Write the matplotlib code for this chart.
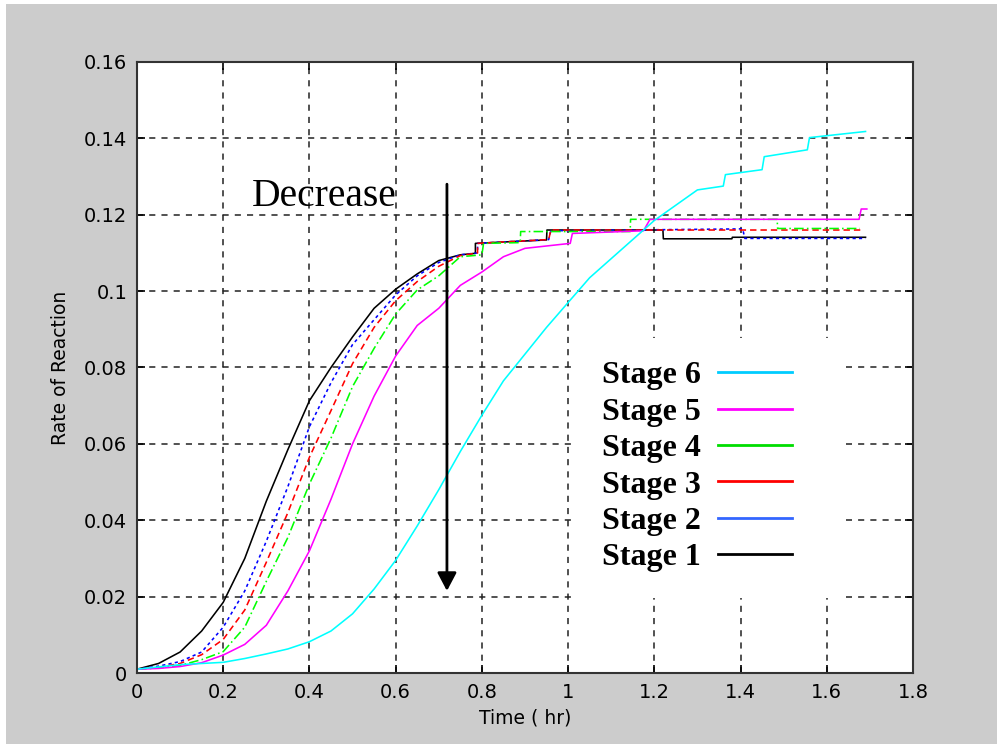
import matplotlib.pyplot as plt
from matplotlib.patches import Rectangle

# Stage 1 (black, solid)
s1_t = [0, 0.05, 0.1, 0.15, 0.2, 0.25, 0.3, 0.35, 0.4, 0.45, 0.5, 0.55, 0.6, 0.65, 0.7, 0.75,
        0.785, 0.785, 0.95, 0.951, 1.22, 1.221, 1.38, 1.381, 1.69]
s1_r = [0.001, 0.0025, 0.0055, 0.011, 0.0185, 0.030, 0.045, 0.0585, 0.0713, 0.080, 0.088, 0.0955,
        0.1005, 0.1045, 0.108, 0.1095, 0.1099, 0.1125, 0.1134, 0.116, 0.116, 0.1137, 0.1137,
        0.1141, 0.1141]

# Stage 2 (blue, dotted)
s2_t = [0, 0.05, 0.1, 0.15, 0.2, 0.25, 0.3, 0.35, 0.4, 0.45, 0.5, 0.55, 0.6, 0.65, 0.7, 0.75,
        0.79, 0.79, 0.955, 0.96, 1.405, 1.41, 1.69]
s2_r = [0.001, 0.0018, 0.003, 0.0055, 0.012, 0.0215, 0.0345, 0.0488, 0.0645, 0.076, 0.086,
        0.0925, 0.099, 0.104, 0.1075, 0.1095, 0.110, 0.1125, 0.1135, 0.1158, 0.1163, 0.1138,
        0.1138]

# Stage 3 (red, dashed)
s3_t = [0, 0.05, 0.1, 0.15, 0.2, 0.25, 0.3, 0.35, 0.4, 0.45, 0.5, 0.55, 0.6, 0.65, 0.7, 0.75,
        0.79, 0.79, 0.955, 0.96, 1.68]
s3_r = [0.001, 0.0015, 0.0025, 0.0048, 0.0088, 0.0165, 0.029, 0.042, 0.0565, 0.0687, 0.081,
        0.0905, 0.0975, 0.1025, 0.1065, 0.1093, 0.110, 0.1125, 0.1135, 0.116, 0.116]

# Stage 4 (green, dash-dot)
s4_t = [0, 0.05, 0.1, 0.15, 0.2, 0.25, 0.3, 0.35, 0.4, 0.45, 0.5, 0.55, 0.6, 0.65, 0.7, 0.75,
        0.8, 0.804, 0.889, 0.89, 1.144, 1.145, 1.485, 1.486, 1.677]
s4_r = [0.001, 0.0013, 0.002, 0.0035, 0.0056, 0.012, 0.024, 0.0355, 0.0495, 0.0615, 0.075,
        0.085, 0.094, 0.1003, 0.104, 0.109, 0.1095, 0.1125, 0.1127, 0.1156, 0.1156, 0.1188,
        0.1188, 0.1164, 0.1164]

# Stage 5 (magenta, solid)
s5_t = [0, 0.05, 0.1, 0.15, 0.2, 0.25, 0.3, 0.35, 0.4, 0.45, 0.5, 0.55, 0.6, 0.65, 0.7, 0.75,
        0.8, 0.85, 0.9, 1.005, 1.01, 1.175, 1.19, 1.675, 1.68, 1.693]
s5_r = [0.001, 0.0012, 0.0017, 0.0027, 0.0047, 0.0075, 0.0125, 0.0215, 0.032, 0.0455, 0.060,
        0.0725, 0.083, 0.091, 0.0955, 0.1015, 0.105, 0.109, 0.1112, 0.1125, 0.1151, 0.1158,
        0.1188, 0.1188, 0.1215, 0.1215]

# Stage 6 (cyan, solid)
s6_t = [0, 0.1, 0.2, 0.25, 0.3, 0.35, 0.4, 0.45, 0.5, 0.55, 0.6, 0.65, 0.7, 0.75, 0.8, 0.85,
        0.9, 0.95, 1.0, 1.05, 1.1, 1.15, 1.2, 1.25, 1.3, 1.36, 1.365, 1.45, 1.455, 1.555,
        1.56, 1.69]
s6_r = [0.001, 0.0022, 0.0028, 0.0038, 0.005, 0.0063, 0.0082, 0.011, 0.0155, 0.022, 0.0295,
        0.0385, 0.048, 0.058, 0.0675, 0.0765, 0.0835, 0.0905, 0.097, 0.1035, 0.1085, 0.1135,
        0.1185, 0.1225, 0.1265, 0.1275, 0.1305, 0.1318, 0.1352, 0.137, 0.1402, 0.1418]

labels = ['Stage 1', 'Stage 2', 'Stage 3', 'Stage 4', 'Stage 5', 'Stage 6']
colors = ['#000000', '#0000ff', '#ff0000', '#00ff00', '#ff00ff', '#00ffff']
legend_colors = ['#000000', '#3366ff', '#ff0000', '#00dd00', '#ff00ff', '#00ccff']
styles = ['-', (0, (2, 2)), (0, (4, 2.5)), (0, (6, 2, 1, 2)), '-', '-']

fig = plt.figure(figsize=(9.97, 7.44), dpi=100, facecolor='#cccccc')
# thin white strip along top and left edge, as in the original screenshot
fig.patches.append(Rectangle((0, 1 - 4 / 744), 1, 4 / 744, transform=fig.transFigure,
                             facecolor='white', edgecolor='none'))
fig.patches.append(Rectangle((0, 0), 6 / 997, 1, transform=fig.transFigure,
                             facecolor='white', edgecolor='none'))

ax = fig.add_axes([0.1374, 0.0954, 0.7783, 0.8213])

series = [(s1_t, s1_r), (s2_t, s2_r), (s3_t, s3_r), (s4_t, s4_r), (s5_t, s5_r), (s6_t, s6_r)]
for (t, r), c, ls in zip(series, colors, styles):
    ax.plot(t, r, color=c, linestyle=ls, lw=1.15)

ax.set_xlim(0, 1.8)
ax.set_ylim(0, 0.16)
ax.set_xticks([0, 0.2, 0.4, 0.6, 0.8, 1, 1.2, 1.4, 1.6, 1.8])
ax.set_xticklabels(['0', '0.2', '0.4', '0.6', '0.8', '1', '1.2', '1.4', '1.6', '1.8'])
ax.set_yticks([0, 0.02, 0.04, 0.06, 0.08, 0.1, 0.12, 0.14, 0.16])
ax.set_yticklabels(['0', '0.02', '0.04', '0.06', '0.08', '0.1', '0.12', '0.14', '0.16'])
ax.tick_params(direction='in', length=6, width=1.2, top=True, right=True,
               labelsize=14, pad=7)
ax.grid(True, color='#222222', linestyle=(0, (4, 4)), lw=1.1)
for sp in ax.spines.values():
    sp.set_linewidth(1.5)
    sp.set_color('#333333')

ax.set_xlabel('Time ( hr)', fontsize=13.5, labelpad=5)
ax.set_ylabel('Rate of Reaction', fontsize=13.5, labelpad=10)

# annotation
ax.text(0.267, 0.1222, 'Decrease', family='Liberation Serif', fontsize=28.5,
        ha='left', va='baseline')
ax.annotate('', xy=(0.719, 0.0215), xytext=(0.719, 0.128),
            arrowprops=dict(arrowstyle='-|>,head_length=1.1,head_width=0.58',
                            color='k', lw=2, shrinkA=0, shrinkB=0))

# legend panel
ax.add_patch(Rectangle((1.021, 0.0196), 0.624, 0.0681, facecolor='white',
                       edgecolor='none', zorder=1.8))
handles = [plt.Line2D([], [], color=c, lw=2) for c in legend_colors]
leg = ax.legend(handles[::-1], labels[::-1], loc='upper left',
                bbox_to_anchor=(602 / 997, (744 - 361) / 744),
                bbox_transform=fig.transFigure, frameon=False, markerfirst=False,
                prop={'family': 'Liberation Serif', 'weight': 'bold', 'size': 23},
                borderpad=0, borderaxespad=0, labelspacing=0.22,
                handlelength=2.3, handletextpad=0.55)

fig.savefig('out.png', dpi=100, facecolor=fig.get_facecolor())
